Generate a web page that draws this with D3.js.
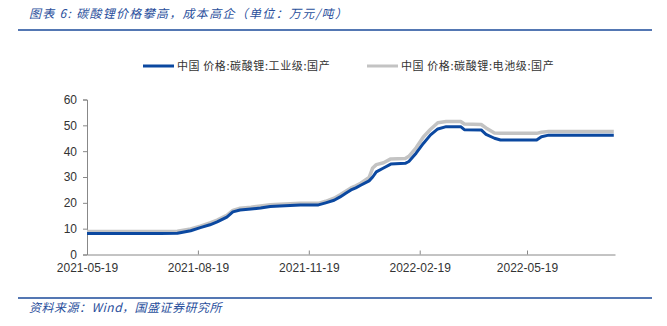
<!DOCTYPE html>
<html><head><meta charset="utf-8">
<script src="https://cdn.jsdelivr.net/npm/d3@7"></script>
<style>
body{margin:0;background:#fff;}
svg{display:block;}
</style></head>
<body>
<svg id="chart" width="667" height="326"></svg>
<script>
const title = "图表 6:  碳酸锂价格攀高，成本高企（单位：万元/吨）";
const source = "资料来源：Wind，国盛证券研究所";
const seriesNames = ["中国 价格:碳酸锂:工业级:国产", "中国 价格:碳酸锂:电池级:国产"];
const dates = ["2021-05-19","2021-06-24","2021-07-19","2021-08-02","2021-08-13","2021-08-21","2021-08-29","2021-09-04","2021-09-12","2021-09-17","2021-09-23","2021-10-02","2021-10-10","2021-10-18","2021-10-26","2021-11-12","2021-11-27","2021-12-03","2021-12-10","2021-12-15","2021-12-20","2021-12-24","2021-12-28","2022-01-01","2022-01-08","2022-01-11","2022-01-14","2022-01-20","2022-01-26","2022-02-07","2022-02-10","2022-02-16","2022-02-22","2022-02-28","2022-03-06","2022-03-13","2022-03-25","2022-03-28","2022-04-11","2022-04-15","2022-04-22","2022-04-27","2022-05-27","2022-05-31","2022-06-06","2022-07-30"];
const industrial = [8.1,8.1,8.1,8.2,9.2,10.4,11.5,12.6,14.5,16.5,17.2,17.6,18.0,18.6,18.8,19.2,19.2,20.0,21.0,22.3,23.8,25.0,25.8,26.8,28.5,30.0,32.0,33.5,35.0,35.3,36.0,39.2,43.0,46.3,48.6,49.5,49.5,48.3,48.2,46.5,45.0,44.3,44.3,45.6,46.2,46.2];
const battery = [8.9,8.9,8.9,9.0,9.9,11.0,12.2,13.3,15.2,17.1,17.9,18.3,18.8,19.3,19.5,19.8,19.8,20.6,21.8,23.1,24.6,25.8,26.6,27.6,29.8,33.5,34.8,35.5,37.0,37.2,38.0,41.3,45.5,48.5,51.0,51.5,51.5,50.5,50.3,49.0,47.0,46.9,46.9,47.3,47.6,47.6];
const xTickLabels = ["2021-05-19","2021-08-19","2021-11-19","2022-02-19","2022-05-19"];
const yTicks = [0,10,20,30,40,50,60];

const parse = d3.timeParse("%Y-%m-%d");
const svg = d3.select("#chart");
const cjk = "'Noto Sans CJK SC', 'Noto Sans', sans-serif";
const latin = "'Liberation Sans', Arial, sans-serif";

// header
svg.append("text").attr("x", 29).attr("y", 18)
  .attr("font-family", cjk).attr("font-size", 12).attr("font-style", "italic")
  .attr("letter-spacing", 1.3)
  .attr("fill", "#2a4f9c").text(title);
svg.append("line").attr("x1", 18).attr("x2", 652).attr("y1", 30).attr("y2", 30)
  .attr("stroke", "#1b4a9a").attr("stroke-width", 1.5);

// footer
svg.append("line").attr("x1", 18).attr("x2", 652).attr("y1", 298).attr("y2", 298)
  .attr("stroke", "#1b4a9a").attr("stroke-width", 1.5);
svg.append("text").attr("x", 29).attr("y", 312)
  .attr("font-family", cjk).attr("font-size", 12).attr("font-style", "italic")
  .attr("letter-spacing", 0.5)
  .attr("fill", "#2a4f9c").text(source);

const x = d3.scaleTime().domain([parse("2021-05-19"), parse("2022-07-31")]).range([87, 615]);
const y = d3.scaleLinear().domain([0, 60]).range([254.5, 99.5]);

// y axis
const yAxis = svg.append("g").attr("transform", "translate(87,0)")
  .call(d3.axisLeft(y).tickValues(yTicks).tickSize(4).tickPadding(6));
yAxis.select(".domain").attr("stroke", "#888");
yAxis.selectAll(".tick line").attr("stroke", "#888");
yAxis.selectAll(".tick text").attr("font-family", latin).attr("font-size", 12).attr("fill", "#333");

// x axis
const xAxis = svg.append("g").attr("transform", "translate(0,254.5)")
  .call(d3.axisBottom(x).tickValues(xTickLabels.map(parse)).tickFormat(d3.timeFormat("%Y-%m-%d")).tickSizeInner(-4).tickSizeOuter(0).tickPadding(7));
xAxis.select(".domain").attr("stroke", "#888");
xAxis.selectAll(".tick line").attr("stroke", "#888");
xAxis.selectAll(".tick text").attr("font-family", latin).attr("font-size", 12).attr("fill", "#333").attr("dy", "0.9em");

const line = d3.line().x((d, i) => x(parse(dates[i]))).y(d => y(d)).curve(d3.curveLinear);

svg.append("path").datum(battery).attr("d", line).attr("fill", "none")
  .attr("stroke", "#c3c3c3").attr("stroke-width", 3.5).attr("stroke-linejoin", "round");
svg.append("path").datum(industrial).attr("d", line).attr("fill", "none")
  .attr("stroke", "#0b48a0").attr("stroke-width", 3).attr("stroke-linejoin", "round");

// legend
const legend = [
  {name: seriesNames[0], color: "#0b48a0", x: 143},
  {name: seriesNames[1], color: "#c3c3c3", x: 367}
];
legend.forEach(l => {
  svg.append("line").attr("x1", l.x).attr("x2", l.x + 31).attr("y1", 66).attr("y2", 66)
    .attr("stroke", l.color).attr("stroke-width", 3);
  svg.append("text").attr("x", l.x + 34).attr("y", 70)
    .attr("font-family", cjk).attr("font-size", 11).attr("letter-spacing", 0.6)
    .attr("fill", "#333").text(l.name);
});
</script>
</body></html>
